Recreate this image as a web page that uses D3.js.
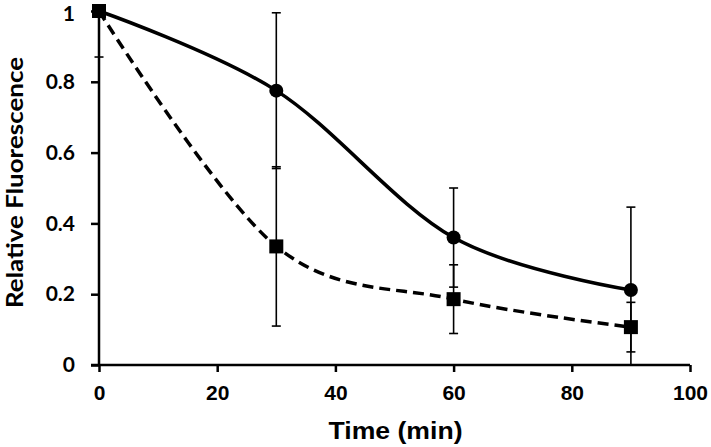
<!DOCTYPE html>
<html>
<head>
<meta charset="utf-8">
<script src="https://cdn.jsdelivr.net/npm/d3@7/dist/d3.min.js"></script>
<style>
  html, body { margin: 0; padding: 0; background: #fff; }
  svg { display: block; }
</style>
</head>
<body>
<svg id="chart" width="711" height="447"></svg>
<script>
// ---- data ----
const times = [0, 30, 60, 90];
const solidValues = [1, 0.775, 0.36, 0.212];
const solidErrors = [0.13, 0.22, 0.14, 0.234];
const dashedValues = [1, 0.335, 0.186, 0.107];
const dashedErrors = [0, 0.225, 0.097, 0.07];
const xTicks = [0, 20, 40, 60, 80, 100];
const yTicks = [0, 0.2, 0.4, 0.6, 0.8, 1];
const yTickLabels = ["0", "0.2", "0.4", "0.6", "0.8", "1"];
const xTitle = "Time (min)";
const yTitle = "Relative Fluorescence";

// ---- layout ----
const svg = d3.select("#chart");
const x = d3.scaleLinear().domain([0, 100]).range([99, 690]);
const y = d3.scaleLinear().domain([0, 1]).range([365, 11]);

const tickFont = "Lato, 'Open Sans', sans-serif";
const xFont = "'Liberation Sans', Arial, sans-serif";

// axes
const yAxis = d3.axisLeft(y).tickValues(yTicks).tickSize(8).tickFormat((d, i) => yTickLabels[i]).tickPadding(16);
const xAxis = d3.axisBottom(x).tickValues(xTicks).tickSize(7).tickPadding(13);

const gy = svg.append("g").attr("transform", `translate(${x(0)},0)`).call(yAxis);
gy.select(".domain").attr("d", `M0,${y(1)}V${y(0)}`);
gy.selectAll("path, line").attr("stroke", "#000").attr("stroke-width", 2.5);
gy.selectAll("text").attr("font-family", tickFont).attr("font-weight", "bold")
  .attr("font-size", 21).attr("fill", "#000");
// keep the top label inside the picture
gy.selectAll(".tick").filter(d => d === 1).select("text").attr("dy", "0.45em");

const gx = svg.append("g").attr("transform", `translate(0,${y(0)})`).call(xAxis);
gx.select(".domain").attr("d", `M${x(0) - 8},0H${x(100)}`);
gx.selectAll("path, line").attr("stroke", "#000").attr("stroke-width", 2.5);
gx.selectAll("text").attr("font-family", xFont).attr("font-weight", "bold")
  .attr("font-size", 21).attr("fill", "#000");

// titles
svg.append("text")
  .attr("x", 395.5).attr("y", 439)
  .attr("text-anchor", "middle")
  .attr("font-family", xFont).attr("font-weight", "bold").attr("font-size", 24)
  .attr("textLength", 134).attr("lengthAdjust", "spacingAndGlyphs")
  .text(xTitle);

svg.append("text")
  .attr("transform", `translate(23,${(57 + 308) / 2}) rotate(-90)`)
  .attr("text-anchor", "middle")
  .attr("font-family", tickFont).attr("font-weight", "bold").attr("font-size", 22)
  .attr("textLength", 251).attr("lengthAdjust", "spacingAndGlyphs")
  .text(yTitle);

// error bars
function errorBars(values, errors) {
  const g = svg.append("g");
  times.forEach((t, i) => {
    const e = errors[i];
    if (!e) return;
    const v = values[i];
    const hi = Math.min(1, v + e), lo = Math.max(0, v - e);
    const cx = x(t);
    g.append("line").attr("x1", cx).attr("x2", cx).attr("y1", y(hi)).attr("y2", y(lo))
      .attr("stroke", "#000").attr("stroke-width", 1.6);
    if (v + e <= 1.0001) g.append("line").attr("x1", cx - 4.5).attr("x2", cx + 4.5)
      .attr("y1", y(v + e)).attr("y2", y(v + e)).attr("stroke", "#000").attr("stroke-width", 1.6);
    if (v - e >= 0) g.append("line").attr("x1", cx - 4.5).attr("x2", cx + 4.5)
      .attr("y1", y(v - e)).attr("y2", y(v - e)).attr("stroke", "#000").attr("stroke-width", 1.6);
  });
}
errorBars(solidValues, solidErrors);
errorBars(dashedValues, dashedErrors);

// lines
const line = d3.line().x(d => x(d[0])).y(d => y(d[1])).curve(d3.curveCardinal.tension(0));
const solidData = times.map((t, i) => [t, solidValues[i]]);
const dashedData = times.map((t, i) => [t, dashedValues[i]]);

svg.append("path").datum(solidData).attr("d", line)
  .attr("fill", "none").attr("stroke", "#000").attr("stroke-width", 3.5);
svg.append("path").datum(dashedData).attr("d", line)
  .attr("fill", "none").attr("stroke", "#000").attr("stroke-width", 3.5)
  .attr("stroke-dasharray", "11,6");

// markers
svg.append("g").selectAll("circle").data(solidData).join("circle")
  .attr("cx", d => x(d[0])).attr("cy", d => y(d[1])).attr("r", 7).attr("fill", "#000");
svg.append("g").selectAll("rect").data(dashedData).join("rect")
  .attr("x", d => x(d[0]) - 7).attr("y", d => y(d[1]) - 7)
  .attr("width", 14).attr("height", 14).attr("fill", "#000");
</script>
</body>
</html>
